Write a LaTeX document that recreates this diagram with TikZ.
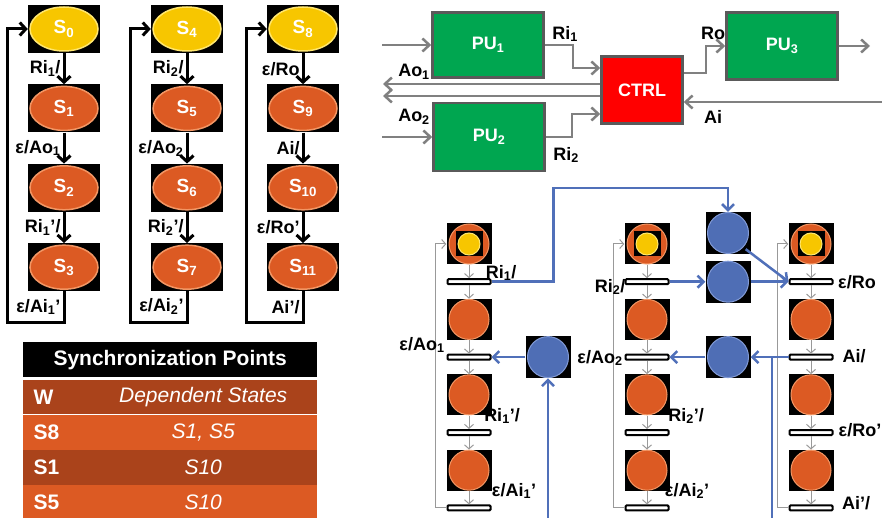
\documentclass[tikz,border=0pt]{standalone}
\usepackage{fontspec}
\setmainfont{Liberation Sans}
\usetikzlibrary{positioning, arrows.meta}
\definecolor{stateorange}{RGB}{220,90,35}
\definecolor{orangerim}{RGB}{242,150,100}
\definecolor{stateyellow}{RGB}{247,198,0}
\definecolor{yellowrim}{RGB}{255,230,110}
\definecolor{pugreen}{RGB}{0,166,80}
\definecolor{boxgray}{RGB}{90,90,90}
\definecolor{arcgray}{RGB}{128,128,128}
\definecolor{placeblue}{RGB}{79,110,181}
\definecolor{bluerim}{RGB}{130,155,215}
\definecolor{arcblue}{RGB}{80,112,185}
\definecolor{rowdark}{RGB}{170,67,27}
\definecolor{rowlight}{RGB}{220,90,35}
\tikzset{
    lbl/.style={font=\bfseries\fontsize{18}{20}\selectfont, inner sep=2pt},
    stbox/.style={rectangle, fill=black, minimum width=72pt, minimum height=48pt, inner sep=0pt, text=white, font=\bfseries\fontsize{19}{21}\selectfont},
    firststate/.style={stbox, path picture={\filldraw[fill=stateyellow, draw=yellowrim, line width=1.5pt](path picture bounding box.center) ellipse [x radius=34pt, y radius=22pt];}},
    otherstate/.style={stbox, path picture={\filldraw[fill=stateorange, draw=orangerim, line width=1.5pt](path picture bounding box.center) ellipse [x radius=34pt, y radius=22pt];}},
    sarrow/.style={line width=3pt, -{Straight Barb[length=6pt, width=13pt]}},
    pubox/.style={draw=boxgray, line width=2.5pt, fill=pugreen, minimum width=111pt, minimum height=65pt, text=white, font=\bfseries\fontsize{18}{20}\selectfont},
    ctrlbox/.style={pubox, fill=red, minimum width=81pt, minimum height=67pt},
    garrow/.style={draw=arcgray, line width=2.5pt, -{Straight Barb[length=7pt, width=13pt]}},
    pbox/.style={rectangle, fill=black, minimum width=45pt, minimum height=41pt, inner sep=0pt},
    pplace/.style={pbox, path picture={\filldraw[fill=stateorange, draw=orangerim, line width=1pt](path picture bounding box.center) circle [radius=20pt];}},
    startplace/.style={pbox, path picture={
        \filldraw[fill=stateorange, draw=orangerim, line width=1pt](path picture bounding box.center) circle [radius=20pt];
        \fill[black]([shift={(-13.5pt,-12.5pt)}]path picture bounding box.center) rectangle ++(27pt,25pt);
        \filldraw[fill=stateyellow, draw=yellowrim, line width=1pt](path picture bounding box.center) circle [radius=11pt];}},
    bplace/.style={pbox, minimum height=42pt, path picture={\filldraw[fill=placeblue, draw=bluerim, line width=1pt](path picture bounding box.center) circle [radius=20.5pt];}},
    tbar/.style={rectangle, draw=black, fill=white, line width=2pt, rounded corners=1pt, minimum width=43pt, minimum height=5pt, inner sep=0pt},
    parc/.style={draw=arcgray!80, line width=1pt, -{Straight Barb[length=4pt, width=9pt]}},
    barc/.style={draw=arcblue, line width=2.5pt, -{Straight Barb[length=6pt, width=12pt]}},
    bline/.style={draw=arcblue, line width=2.5pt},
    row/.style={minimum width=294pt, minimum height=34.75pt, inner sep=0pt},
    rowtext/.style={text=white, font=\itshape\fontsize{21}{23}\selectfont},
    rowkey/.style={text=white, font=\bfseries\fontsize{21}{23}\selectfont, anchor=west}
}

\begin{document}
\begin{tikzpicture}[x=1pt, y=-1pt, node distance=31pt]
  \useasboundingbox (0,0) rectangle (882,518);
  % state machines
  \node(S0)[firststate] at (64,29){S\textsubscript{0}};
  \node(S1)[otherstate, below=of S0]{S\textsubscript{1}};
  \node(S2)[otherstate, below=of S1]{S\textsubscript{2}};
  \node(S3)[otherstate, below=of S2]{S\textsubscript{3}};
  \node(S4)[firststate] at (187,29){S\textsubscript{4}};
  \node(S5)[otherstate, below=of S4]{S\textsubscript{5}};
  \node(S6)[otherstate, below=of S5]{S\textsubscript{6}};
  \node(S7)[otherstate, below=of S6]{S\textsubscript{7}};
  \node(S8)[firststate] at (303,29){S\textsubscript{8}};
  \node(S9)[otherstate, below=of S8]{S\textsubscript{9}};
  \node(S10)[otherstate, below=of S9]{S\textsubscript{10}};
  \node(S11)[otherstate, below=of S10]{S\textsubscript{11}};
  \draw[sarrow](S0)--node[lbl, left]{Ri\textsubscript{1}/}(S1);
  \draw[sarrow](S1)--node[lbl, left]{ε/Ao\textsubscript{1}}(S2);
  \draw[sarrow](S2)--node[lbl, left]{Ri\textsubscript{1}’/}(S3);
  \draw[sarrow](S3.south)--node[lbl, left]{ε/Ai\textsubscript{1}’}++(0,31)-|([xshift=-20pt]S0.west)--(S0.west);
  \draw[sarrow](S4)--node[lbl, left]{Ri\textsubscript{2}/}(S5);
  \draw[sarrow](S5)--node[lbl, left]{ε/Ao\textsubscript{2}}(S6);
  \draw[sarrow](S6)--node[lbl, left]{Ri\textsubscript{2}’/}(S7);
  \draw[sarrow](S7.south)--node[lbl, left]{ε/Ai\textsubscript{2}’}++(0,31)-|([xshift=-20pt]S4.west)--(S4.west);
  \draw[sarrow](S8)--node[lbl, left]{ε/Ro}(S9);
  \draw[sarrow](S9)--node[lbl, left]{Ai/}(S10);
  \draw[sarrow](S10)--node[lbl, left]{ε/Ro’}(S11);
  \draw[sarrow](S11.south)--node[lbl, left]{Ai’/}++(0,31)-|([xshift=-20pt]S8.west)--(S8.west);

  % table
  \node(HD)[row, fill=black, minimum height=35pt, anchor=north west, text=white, font=\bfseries\fontsize{21}{23}\selectfont] at (23,342){Synchronization Points};
  \node(R1)[row, fill=rowdark, below=2pt of HD]{};
  \node(R2)[row, fill=rowlight, below=0pt of R1]{};
  \node(R3)[row, fill=rowdark, below=0pt of R2]{};
  \node(R4)[row, fill=rowlight, below=0pt of R3]{};
  \node(K1)[rowkey] at ([xshift=7pt]R1.west){W};
  \node(V1)[rowtext] at ([xshift=33pt]R1.center){Dependent States};
  \node(K2)[rowkey] at ([xshift=7pt]R2.west){S8};
  \node(V2)[rowtext] at ([xshift=33pt]R2.center){S1, S5};
  \node(K3)[rowkey] at ([xshift=7pt]R3.west){S1};
  \node(V3)[rowtext] at ([xshift=33pt]R3.center){S10};
  \node(K4)[rowkey] at ([xshift=7pt]R4.west){S5};
  \node(V4)[rowtext] at ([xshift=33pt]R4.center){S10};

  % processing units
  \node(PU1)[pubox] at (488,45){PU\textsubscript{1}};
  \node(PU2)[pubox, minimum height=68pt] at (489,137){PU\textsubscript{2}};
  \node(CTRL)[ctrlbox] at (642,90){CTRL};
  \node(PU3)[pubox, minimum height=67pt] at (782,46){PU\textsubscript{3}};
  \coordinate(in1) at (382,45);
  \coordinate(in2) at (382,137);
  \coordinate(ao1) at (383,84);
  \coordinate(ao2) at (383,96);
  \coordinate(out3) at (870,46);
  \coordinate(aiin) at (882,102);
  \draw[garrow](in1)--(PU1);
  \draw[garrow](in2)--(PU2);
  \draw[garrow](PU1.east)--++(28,0)|-([yshift=22pt]CTRL.west);
  \draw[garrow](PU2.east)--++(26,0)|-([yshift=-24pt]CTRL.west);
  \draw[garrow]([yshift=6pt]CTRL.west)--(ao1);
  \draw[garrow]([yshift=-6pt]CTRL.west)--(ao2);
  \draw[garrow]([yshift=17pt]CTRL.east)--++(22,0)|-(PU3.west);
  \draw[garrow](PU3)--(out3);
  \draw[garrow](aiin)--([yshift=-12pt]CTRL.east);
  \node(LRi1)[lbl] at (565,34){Ri\textsubscript{1}};
  \node(LAo1)[lbl] at (414,72){Ao\textsubscript{1}};
  \node(LAo2)[lbl] at (414,117){Ao\textsubscript{2}};
  \node(LRi2)[lbl] at (566,155){Ri\textsubscript{2}};
  \node(LRo)[lbl] at (713,33){Ro};
  \node(LAi)[lbl] at (713,117){Ai};

  % petri net
  \node(P11)[startplace] at (469,244){};
  \node(T11)[tbar, below=13.5pt of P11]{};
  \node(P12)[pplace, below=13.5pt of T11]{};
  \node(T12)[tbar, below=13.5pt of P12]{};
  \node(P13)[pplace, below=13.5pt of T12]{};
  \node(T13)[tbar, below=13.5pt of P13]{};
  \node(P14)[pplace, below=13.5pt of T13]{};
  \node(T14)[tbar, below=13.5pt of P14]{};
  \node(P21)[startplace] at (647,244){};
  \node(T21)[tbar, below=13.5pt of P21]{};
  \node(P22)[pplace, below=13.5pt of T21]{};
  \node(T22)[tbar, below=13.5pt of P22]{};
  \node(P23)[pplace, below=13.5pt of T22]{};
  \node(T23)[tbar, below=13.5pt of P23]{};
  \node(P24)[pplace, below=13.5pt of T23]{};
  \node(T24)[tbar, below=13.5pt of P24]{};
  \node(P31)[startplace] at (811,244){};
  \node(T31)[tbar, below=13.5pt of P31]{};
  \node(P32)[pplace, below=13.5pt of T31]{};
  \node(T32)[tbar, below=13.5pt of P32]{};
  \node(P33)[pplace, below=13.5pt of T32]{};
  \node(T33)[tbar, below=13.5pt of P33]{};
  \node(P34)[pplace, below=13.5pt of T33]{};
  \node(T34)[tbar, below=13.5pt of P34]{};
  \coordinate(d1) at (548,518);
  \coordinate(d2) at (772,518);
  \node(B1)[bplace] at (728,233){};
  \node(B2)[bplace] at (B1 |- T21){};
  \node(B3)[bplace] at (B1 |- T22){};
  \node(B4)[bplace] at (d1 |- T12){};
  \draw[parc](P11)--(T11);
  \draw[parc](T11)--(P12);
  \draw[parc](P12)--(T12);
  \draw[parc](T12)--(P13);
  \draw[parc](P13)--(T13);
  \draw[parc](T13)--(P14);
  \draw[parc](P14)--(T14);
  \draw[parc](T14.west)--++(-11,0)|-(P11.west);
  \draw[parc](P21)--(T21);
  \draw[parc](T21)--(P22);
  \draw[parc](P22)--(T22);
  \draw[parc](T22)--(P23);
  \draw[parc](P23)--(T23);
  \draw[parc](T23)--(P24);
  \draw[parc](P24)--(T24);
  \draw[parc](T24.west)--++(-11,0)|-(P21.west);
  \draw[parc](P31)--(T31);
  \draw[parc](T31)--(P32);
  \draw[parc](P32)--(T32);
  \draw[parc](T32)--(P33);
  \draw[parc](P33)--(T33);
  \draw[parc](T33)--(P34);
  \draw[parc](P34)--(T34);
  \draw[parc](T34.west)--++(-11,0)|-(P31.west);
  \draw[barc](T11.east)--++(62,0)|-([yshift=24pt]B1.north)--(B1.north);
  \draw[barc]([shift={(-5pt,5pt)}]B1.south east)--(T31.west);
  \draw[barc](T21.east)--(B2);
  \draw[barc](B2)--(T31.west);
  \draw[barc](T32.west)--(B3);
  \draw[bline](d2)--(d2 |- T32);
  \draw[barc](B3)--(T22.east);
  \draw[barc](d1)--(B4);
  \draw[barc](B4)--(T12.east);
  \node(LT11)[lbl] at (501,273){Ri\textsubscript{1}/};
  \node(LT12)[lbl] at (422,345){ε/Ao\textsubscript{1}};
  \node(LT13)[lbl] at (502,416){Ri\textsubscript{1}’/};
  \node(LT14)[lbl] at (514,491){ε/Ai\textsubscript{1}’};
  \node(LT21)[lbl] at (610,287){Ri\textsubscript{2}/};
  \node(LT22)[lbl] at (600,358){ε/Ao\textsubscript{2}};
  \node(LT23)[lbl] at (686,416){Ri\textsubscript{2}’/};
  \node(LT24)[lbl] at (687,491){ε/Ai\textsubscript{2}’};
  \node(LT31)[lbl] at (857,282){ε/Ro};
  \node(LT32)[lbl] at (854,356){Ai/};
  \node(LT33)[lbl] at (860,430){ε/Ro’};
  \node(LT34)[lbl] at (856,503){Ai’/};
\end{tikzpicture}
\end{document}
